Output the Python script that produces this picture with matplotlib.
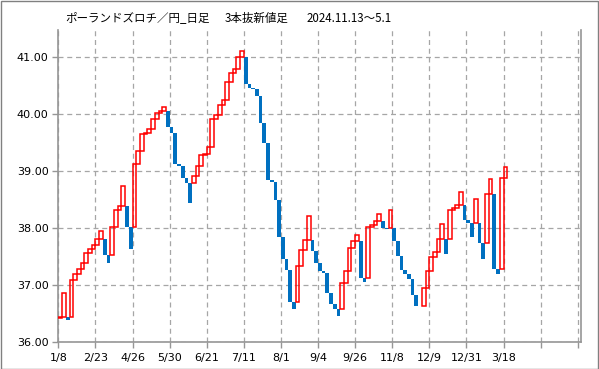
import matplotlib
matplotlib.use("Agg")
import matplotlib.pyplot as plt
from matplotlib.patches import Rectangle

plt.rcParams['font.family'] = ['Noto Sans CJK JP', 'DejaVu Sans']

# three-line-break boxes (open, close) in order
opens = [36.42, 36.45, 36.45, 36.45, 37.10, 37.19, 37.29, 37.40, 37.56, 37.63,
         37.71, 37.82, 37.82, 37.54, 37.54, 38.03, 38.33, 38.39, 38.39, 38.03,
         38.03, 39.12, 39.35, 39.65, 39.68, 39.74, 39.91, 40.03, 40.06, 40.06,
         39.78, 39.68, 39.12, 39.10, 38.89, 38.79, 38.79, 38.92, 39.09, 39.29,
         39.31, 39.42, 39.91, 39.98, 40.16, 40.25, 40.57, 40.72, 40.79, 41.00,
         41.00, 40.54, 40.47, 40.44, 40.32, 39.85, 39.49, 38.84, 38.82, 38.49,
         37.84, 37.46, 37.27, 36.70, 36.70, 37.34, 37.62, 37.80, 37.80, 37.60,
         37.40, 37.25, 37.21, 36.86, 36.67, 36.58, 36.58, 37.04, 37.25, 37.65,
         37.78, 37.78, 37.12, 37.12, 38.03, 38.06, 38.13, 38.13, 38.01, 38.01,
         38.01, 37.77, 37.52, 37.26, 37.19, 37.11, 36.83, 36.64, 36.64, 36.96,
         37.25, 37.49, 37.58, 37.82, 37.82, 37.82, 38.33, 38.35, 38.41, 38.41,
         38.15, 38.10, 38.10, 38.10, 37.75, 37.75, 38.60, 38.60, 37.28, 37.28,
         38.88]
closes = [36.45, 36.86, 36.40, 37.10, 37.19, 37.29, 37.40, 37.56, 37.63, 37.71,
          37.82, 37.95, 37.54, 37.39, 38.03, 38.33, 38.39, 38.74, 38.03, 37.64,
          39.12, 39.35, 39.65, 39.68, 39.74, 39.91, 40.03, 40.06, 40.13, 39.78,
          39.68, 39.12, 39.10, 38.89, 38.79, 38.44, 38.92, 39.09, 39.29, 39.31,
          39.42, 39.91, 39.98, 40.16, 40.25, 40.57, 40.72, 40.79, 41.00, 41.11,
          40.54, 40.47, 40.44, 40.32, 39.85, 39.49, 38.84, 38.82, 38.49, 37.84,
          37.46, 37.27, 36.70, 36.58, 37.34, 37.62, 37.80, 38.22, 37.60, 37.40,
          37.25, 37.21, 36.86, 36.67, 36.58, 36.46, 37.04, 37.25, 37.65, 37.78,
          37.88, 37.12, 37.05, 38.03, 38.06, 38.13, 38.25, 38.01, 37.99, 38.33,
          37.77, 37.52, 37.26, 37.19, 37.11, 36.83, 36.64, 36.63, 36.96, 37.25,
          37.49, 37.58, 37.82, 38.08, 37.55, 38.33, 38.35, 38.41, 38.63, 38.15,
          38.10, 37.84, 38.51, 37.75, 37.47, 38.60, 38.86, 37.28, 37.19, 38.88,
          39.07]

tick_labels = ["1/8", "2/23", "4/26", "5/30", "6/21", "7/11", "8/1", "9/4",
               "9/26", "11/8", "12/9", "12/31", "3/18", "", ""]
n_slots = 141
y_ticks = [36.0, 37.0, 38.0, 39.0, 40.0, 41.0]

W, H = 599, 369
fig = plt.figure(figsize=(W / 100, H / 100), dpi=100)
fig.patch.set_facecolor("white")
fig.patches.append(Rectangle((0.5 / W, 0.5 / H), 1 - 1.5 / W, 1 - 1.5 / H,
                             transform=fig.transFigure, fill=False,
                             edgecolor="#808080", linewidth=1.0))

left, right, top, bottom = 58.4, 581.4, 30.0, 342.3
ax = fig.add_axes([left / W, 1 - bottom / H, (right - left) / W, (bottom - top) / H])

xs = list(range(len(opens)))
up_x = [x for x, o, c in zip(xs, opens, closes) if c >= o]
up_o = [o for x, o, c in zip(xs, opens, closes) if c >= o]
up_h = [c - o for x, o, c in zip(xs, opens, closes) if c >= o]
dn_x = [x for x, o, c in zip(xs, opens, closes) if c < o]
dn_o = [o for x, o, c in zip(xs, opens, closes) if c < o]
dn_h = [c - o for x, o, c in zip(xs, opens, closes) if c < o]

ax.bar(dn_x, dn_h, bottom=dn_o, width=1.0, align="edge",
       color="#0070C0", edgecolor="none", zorder=3)
ax.bar(up_x, up_h, bottom=up_o, width=1.0, align="edge",
       fill=False, edgecolor="#FF0000", linewidth=1.1, zorder=4)

ax.set_xlim(0, n_slots)
ax.set_ylim(36.0, 41.48)

tick_pos = [i * 10 for i in range(len(tick_labels))]
ax.set_xticks(tick_pos)
ax.set_xticklabels(tick_labels, fontsize=8, family=["DejaVu Sans"])
ax.set_yticks(y_ticks)
ax.set_yticklabels([f"{v:.2f}" for v in y_ticks], fontsize=8, family=["DejaVu Sans"])

ax.grid(True, linestyle=(0, (4, 3)), color="#A6A6A6", linewidth=0.9, zorder=0)
ax.set_axisbelow(True)
for s in ["top"]:
    ax.spines[s].set_visible(False)
for s in ["left", "bottom", "right"]:
    ax.spines[s].set_color("#969696")
    ax.spines[s].set_linewidth(1.2)
ax.tick_params(axis="both", direction="out", length=4, color="#969696",
               width=1, labelcolor="#000000")
ax.tick_params(axis="x", pad=4)
ax.tick_params(axis="y", pad=3)

ty = 1 - 18 / H
fig.text(65 / W, ty, "ポーランドズロチ／円_日足", fontsize=8.3, va="center", ha="left")
fig.text(225 / W, ty, "3本抜新値足", fontsize=8.3, va="center", ha="left")
fig.text(307 / W, ty, "2024.11.13～5.1", fontsize=8.3, va="center", ha="left")

fig.savefig("out.png", dpi=100)
